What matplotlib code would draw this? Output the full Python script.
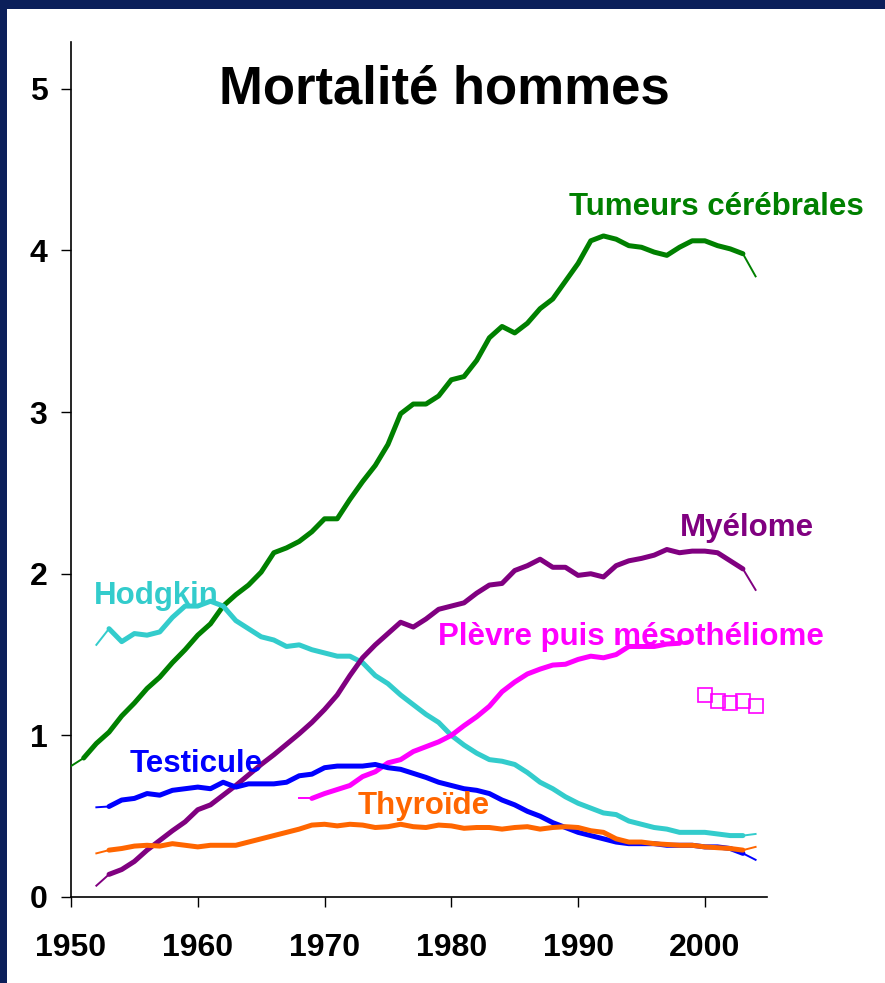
import numpy as np
from matplotlib import pyplot as plt

plt.rcParams["font.family"] = ["Liberation Sans", "DejaVu Sans"]
plt.rcParams["font.weight"] = "bold"

# mortality rates, men (per 100 000)
years_tumeurs = list(range(1950, 2005))
tumeurs = [0.81, 0.86, 0.95, 1.02, 1.12, 1.20, 1.29, 1.36, 1.45, 1.53,
           1.62, 1.69, 1.80, 1.87, 1.93, 2.01, 2.13, 2.16, 2.20, 2.26,
           2.34, 2.34, 2.46, 2.57, 2.67, 2.80, 2.99, 3.05, 3.05, 3.10,
           3.20, 3.22, 3.32, 3.46, 3.53, 3.49, 3.55, 3.64, 3.70, 3.81,
           3.92, 4.06, 4.09, 4.07, 4.03, 4.02, 3.99, 3.97, 4.02, 4.06,
           4.06, 4.03, 4.01, 3.98, 3.84]

years_52 = list(range(1952, 2005))
hodgkin = [1.56, 1.66, 1.58, 1.63, 1.62, 1.64, 1.73, 1.80, 1.80, 1.83,
           1.80, 1.71, 1.66, 1.61, 1.59, 1.55, 1.56, 1.53, 1.51, 1.49,
           1.49, 1.45, 1.37, 1.32, 1.25, 1.19, 1.13, 1.08, 1.00, 0.94,
           0.89, 0.85, 0.84, 0.82, 0.77, 0.71, 0.67, 0.62, 0.58, 0.55,
           0.52, 0.51, 0.47, 0.45, 0.43, 0.42, 0.40, 0.40, 0.40, 0.39,
           0.38, 0.38, 0.39]
testicule = [0.555, 0.56, 0.60, 0.61, 0.64, 0.63, 0.66, 0.67, 0.68, 0.67,
             0.71, 0.68, 0.70, 0.70, 0.70, 0.71, 0.75, 0.76, 0.80, 0.81,
             0.81, 0.81, 0.82, 0.80, 0.79, 0.765, 0.74, 0.71, 0.69, 0.67,
             0.66, 0.64, 0.60, 0.57, 0.53, 0.50, 0.46, 0.43, 0.40, 0.38,
             0.36, 0.34, 0.33, 0.33, 0.33, 0.32, 0.32, 0.32, 0.31, 0.31,
             0.30, 0.27, 0.23]
thyroide = [0.27, 0.29, 0.30, 0.315, 0.32, 0.315, 0.33, 0.32, 0.31, 0.32,
            0.32, 0.32, 0.34, 0.36, 0.38, 0.40, 0.42, 0.445, 0.45, 0.44,
            0.45, 0.445, 0.43, 0.435, 0.45, 0.435, 0.43, 0.445, 0.44, 0.425,
            0.43, 0.43, 0.42, 0.43, 0.435, 0.42, 0.43, 0.435, 0.43, 0.41,
            0.40, 0.36, 0.34, 0.34, 0.33, 0.325, 0.32, 0.32, 0.31, 0.305,
            0.30, 0.29, 0.31]
myelome = [0.07, 0.14, 0.17, 0.22, 0.29, 0.35, 0.41, 0.465, 0.54, 0.57,
           0.63, 0.69, 0.755, 0.82, 0.88, 0.945, 1.01, 1.08, 1.16, 1.25,
           1.37, 1.48, 1.56, 1.63, 1.70, 1.67, 1.72, 1.78, 1.80, 1.82,
           1.88, 1.93, 1.94, 2.02, 2.05, 2.09, 2.04, 2.04, 1.99, 2.00,
           1.98, 2.05, 2.08, 2.095, 2.115, 2.15, 2.13, 2.14, 2.14, 2.13,
           2.08, 2.03, 1.90]

years_plevre = list(range(1968, 2000))
plevre = [0.61, 0.61, 0.64, 0.665, 0.69, 0.745, 0.775, 0.83, 0.85, 0.90,
          0.93, 0.96, 1.00, 1.06, 1.115, 1.18, 1.27, 1.33, 1.38, 1.41,
          1.435, 1.44, 1.47, 1.49, 1.48, 1.50, 1.55, 1.55, 1.55, 1.565,
          1.57, 1.59]

years_meso = [2000, 2001, 2002, 2003, 2004]
meso = [1.25, 1.21, 1.20, 1.21, 1.18]

series = [
    (years_tumeurs, tumeurs, "#008000", "Tumeurs cérébrales", 2000.9, 4.27),
    (years_52, hodgkin, "#33CCCC", "Hodgkin", 1956.7, 1.86),
    (years_52, myelome, "#800080", "Myélome", 2003.3, 2.28),
    (years_plevre, plevre, "#FF00FF", "Plèvre puis mésothéliome", 1994.2, 1.61),
    (years_52, testicule, "#0000FF", "Testicule", 1959.9, 0.82),
    (years_52, thyroide, "#FF6600", "Thyroïde", 1977.8, 0.56),
]

navy = "#0b1f5a"

fig = plt.figure(figsize=(8.85, 9.83), dpi=100)
fig.patch.set_facecolor(navy)
# white slide area inside the navy frame
fig.add_artist(plt.Rectangle((7 / 885, 0), 1, 1 - 9 / 983,
                             transform=fig.transFigure, facecolor="white",
                             edgecolor="none", zorder=0))

ax = fig.add_axes([71 / 885, 86 / 983, 696 / 885, 855 / 983])
ax.set_facecolor("none")

for xs, ys, color, label, tx, ty in series:
    xs = np.asarray(xs)
    ys = np.asarray(ys)
    # the first and last yearly segments are drawn thin, as in the source
    ax.plot(xs[1:-1], ys[1:-1], color=color, lw=3.6, solid_joinstyle="round",
            solid_capstyle="round", zorder=3)
    ax.plot(xs[:2], ys[:2], color=color, lw=1.4, zorder=3)
    ax.plot(xs[-2:], ys[-2:], color=color, lw=1.4, zorder=3)
    ax.text(tx, ty, label, color=color, fontsize=22.5, fontweight="bold",
            ha="center", va="center", zorder=5)

ax.plot(years_meso, meso, linestyle="none", marker="s", markersize=10,
        markerfacecolor="none", markeredgecolor="#FF00FF",
        markeredgewidth=1.2, zorder=3)

ax.set_xlim(1950, 2004.9)
ax.set_ylim(0, 5.29)
ax.set_xticks([1950, 1960, 1970, 1980, 1990, 2000])
ax.set_yticks([0, 1, 2, 3, 4, 5])
ax.tick_params(axis="x", direction="out", length=7, width=1, pad=19,
               labelsize=23)
ax.tick_params(axis="y", direction="out", length=7, width=1, pad=10,
               labelsize=23)
for lab in ax.get_xticklabels() + ax.get_yticklabels():
    lab.set_fontweight("bold")

for side in ["top", "right"]:
    ax.spines[side].set_visible(False)
for side in ["left", "bottom"]:
    ax.spines[side].set_linewidth(1.2)

fig.text(444 / 885, 1 - 90 / 983, "Mortalité hommes", fontsize=38,
         fontweight="bold", ha="center", va="center", color="black")

fig.savefig("out.png", dpi=100, facecolor=navy)
